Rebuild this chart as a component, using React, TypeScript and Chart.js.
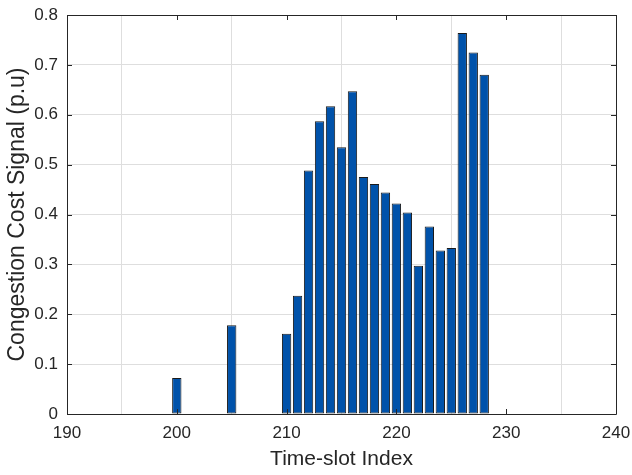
import React, { useEffect, useRef } from "react";
import { Chart, registerables } from "chart.js";

Chart.register(...registerables);

const slots: number[] = [
  195, 196, 197, 198, 199, 200, 201, 202, 203, 204, 205, 206, 207, 208, 209,
  210, 211, 212, 213, 214, 215, 216, 217, 218, 219, 220, 221, 222, 223, 224,
  225, 226, 227, 228, 229, 230, 231, 232, 233, 234, 235,
];
const signal: number[] = [
  0, 0, 0, 0, 0, 0.072, 0, 0, 0, 0, 0.178, 0, 0, 0, 0,
  0.161, 0.237, 0.488, 0.587, 0.617, 0.535, 0.647, 0.475, 0.461, 0.444, 0.422,
  0.404, 0.297, 0.376, 0.328, 0.333, 0.764, 0.725, 0.68, 0, 0, 0, 0, 0, 0, 0,
];
const xTicks: number[] = [190, 200, 210, 220, 230, 240];
const yTicks: number[] = [0, 0.1, 0.2, 0.3, 0.4, 0.5, 0.6, 0.7, 0.8];

const FONT = "'Liberation Sans', Arial, sans-serif";
const TEXT = "#262626";

const framePlugin = {
  id: "frame",
  afterDatasetsDraw(chart: any) {
    const { ctx, chartArea: a, scales } = chart;
    ctx.save();
    ctx.strokeStyle = TEXT;
    ctx.lineWidth = 1;
    ctx.beginPath();
    ctx.rect(Math.round(a.left) + 0.5, Math.round(a.top) + 0.5, Math.round(a.right - a.left), Math.round(a.bottom - a.top));
    ctx.stroke();
    const tl = 5;
    ctx.beginPath();
    xTicks.forEach((v) => {
      const px = Math.round(scales.x.getPixelForValue(v)) + 0.5;
      ctx.moveTo(px, a.bottom);
      ctx.lineTo(px, a.bottom - tl);
      ctx.moveTo(px, a.top);
      ctx.lineTo(px, a.top + tl);
    });
    yTicks.forEach((v) => {
      const py = Math.round(scales.y.getPixelForValue(v)) + 0.5;
      ctx.moveTo(a.left, py);
      ctx.lineTo(a.left + tl, py);
      ctx.moveTo(a.right, py);
      ctx.lineTo(a.right - tl, py);
    });
    ctx.stroke();
    ctx.restore();
  },
};

export default function App() {
  const ref = useRef<HTMLCanvasElement>(null);
  useEffect(() => {
    document.body.style.margin = "0";
    const chart = new Chart(ref.current!, {
      type: "bar",
      data: {
        datasets: [
          {
            data: slots.map((s, i) => ({ x: s, y: signal[i] })),
            backgroundColor: "#0052aa",
            borderColor: "#1a1a1a",
            borderWidth: 1,
            borderSkipped: false,
            barPercentage: 0.85,
            categoryPercentage: 1,
          },
        ],
      },
      options: {
        animation: false,
        responsive: false,
        layout: { padding: { top: 15, right: 16, bottom: 0, left: 0 } },
        plugins: { legend: { display: false }, tooltip: { enabled: false } },
        scales: {
          x: {
            type: "linear",
            min: 190,
            max: 240,
            offset: false,
            afterBuildTicks: (s: any) => {
              s.ticks = xTicks.map((v) => ({ value: v }));
            },
            afterFit: (s: any) => {
              s.height = 61;
              s.paddingRight = 0;
              s.paddingLeft = 0;
            },
            grid: { color: "#dedede", tickLength: 0, drawTicks: false },
            border: { display: false },
            ticks: {
              color: TEXT,
              font: { family: FONT, size: 17 },
              padding: 9,
              maxRotation: 0,
            },
            title: {
              display: true,
              text: "Time-slot Index",
              color: TEXT,
              font: { family: FONT, size: 21 },
              padding: { top: 2, bottom: 3 },
            },
          },
          y: {
            min: 0,
            max: 0.8,
            afterBuildTicks: (s: any) => {
              s.ticks = yTicks.map((v) => ({ value: v }));
            },
            afterFit: (s: any) => {
              s.width = 67;
              s.paddingTop = 0;
              s.paddingBottom = 0;
            },
            grid: { color: "#dedede", drawTicks: false },
            border: { display: false },
            ticks: {
              color: TEXT,
              font: { family: FONT, size: 17 },
              padding: 9,
              callback: (v: any) => String(Number(Number(v).toFixed(1))),
            },
            title: {
              display: true,
              text: "Congestion Cost Signal (p.u)",
              color: TEXT,
              font: { family: FONT, size: 23 },
              padding: { top: 4, bottom: 4 },
            },
          },
        },
      },
      plugins: [framePlugin],
    });
    return () => chart.destroy();
  }, []);
  return (
    <div style={{ width: 632, height: 475, background: "#fff" }}>
      <canvas ref={ref} width={632} height={475} />
    </div>
  );
}
